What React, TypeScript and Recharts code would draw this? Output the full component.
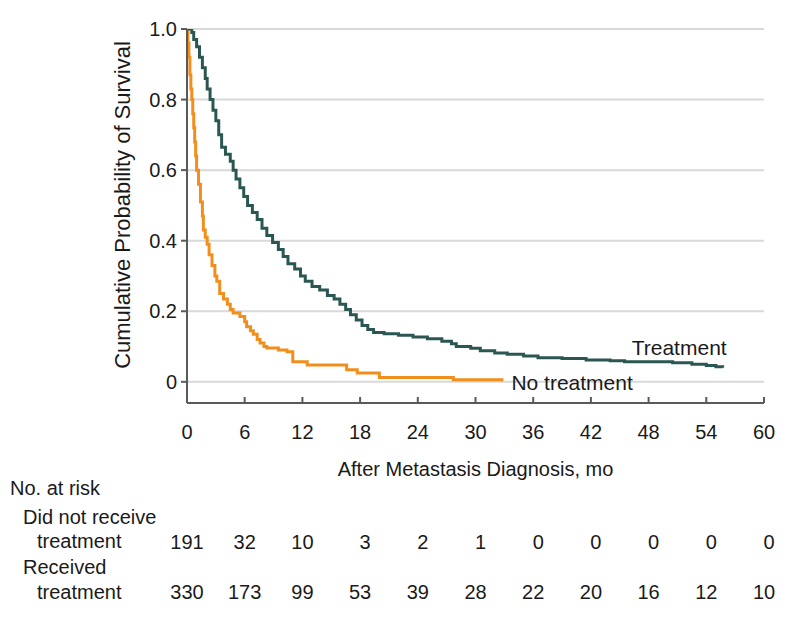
import { LineChart, Line, XAxis, YAxis, CartesianGrid } from 'recharts';

// months after metastasis diagnosis shown on the x axis / risk table
const months = [0, 6, 12, 18, 24, 30, 36, 42, 48, 54, 60];
const atRiskNoTreatment = [191, 32, 10, 3, 2, 1, 0, 0, 0, 0, 0];
const atRiskTreatment = [330, 173, 99, 53, 39, 28, 22, 20, 16, 12, 10];
const survivalTicks = [0, 0.2, 0.4, 0.6, 0.8, 1.0];

// Kaplan-Meier estimates
const treatmentTime = [
  0, 0.5, 0.7, 1.0, 1.3, 1.6, 1.9, 2.1, 2.4, 2.7, 3.0, 3.3, 3.6, 4.0, 4.5, 4.8, 5.1, 5.5, 5.9, 6.3,
  6.8, 7.3, 7.8, 8.3, 8.9, 9.5, 10.0, 10.5, 11.2, 11.8, 12.3, 13.0, 13.8, 14.6, 15.3, 15.9, 16.5,
  17.0, 17.6, 18.2, 18.8, 19.4, 20.5, 22.0, 23.5, 25.0, 26.5, 27.5, 28.0, 29.5, 30.5, 32.0, 33.3,
  35.0, 36.5, 39.0, 41.5, 44.0, 45.5, 48.0, 50.5, 52.5, 54.0, 55.0, 55.7,
];
const treatmentSurvival = [
  1.0, 0.99, 0.97, 0.95, 0.92, 0.89, 0.86, 0.83, 0.8, 0.77, 0.74, 0.7, 0.665, 0.645, 0.625, 0.6,
  0.575, 0.55, 0.525, 0.5, 0.48, 0.46, 0.435, 0.415, 0.395, 0.375, 0.355, 0.335, 0.32, 0.3, 0.285,
  0.27, 0.26, 0.245, 0.235, 0.22, 0.205, 0.19, 0.175, 0.16, 0.148, 0.14, 0.136, 0.132, 0.127, 0.122,
  0.115, 0.108, 0.1, 0.095, 0.088, 0.082, 0.078, 0.073, 0.068, 0.066, 0.062, 0.06, 0.057, 0.057,
  0.054, 0.05, 0.046, 0.043, 0.04,
];
const noTreatmentTime = [
  0, 0.1, 0.2, 0.3, 0.4, 0.5, 0.6, 0.7, 0.8, 0.9, 1.0, 1.2, 1.4, 1.6, 1.7, 1.9, 2.1, 2.3, 2.6, 2.9,
  3.1, 3.4, 3.8, 4.2, 4.5, 4.8, 5.5, 6.0, 6.2, 6.6, 6.9, 7.3, 7.6, 8.0, 8.3, 9.5, 10.4, 11.0, 12.5,
  16.6, 17.7, 20.0, 27.7, 32.9,
];
const noTreatmentSurvival = [
  1.0, 0.96, 0.92, 0.87, 0.83, 0.8, 0.76, 0.72, 0.68, 0.64, 0.6, 0.56, 0.51, 0.47, 0.43, 0.41, 0.39,
  0.36, 0.33, 0.3, 0.285, 0.25, 0.235, 0.22, 0.205, 0.195, 0.185, 0.17, 0.156, 0.145, 0.135, 0.12,
  0.11, 0.1, 0.096, 0.09, 0.085, 0.057, 0.048, 0.034, 0.025, 0.012, 0.006, 0.006,
];

const treatmentData = treatmentTime.map((t, i) => ({ t, s: treatmentSurvival[i] }));
const noTreatmentData = noTreatmentTime.map((t, i) => ({ t, s: noTreatmentSurvival[i] }));

const FONT = "'Liberation Sans', Arial, sans-serif";
const TEXT = '#1a1a1a';
const TEAL = '#2b5753';
const ORANGE = '#f28e1c';
const AXIS = '#5a5a5a';

function MonthTick(props: any) {
  const { x, y, payload } = props;
  const i = months.indexOf(payload.value);
  const a = atRiskNoTreatment[i];
  const b = atRiskTreatment[i];
  // single digits sit right-aligned in a two-digit column
  const shift = (n: number) => (String(n).length === 1 ? 5 : 0);
  return (
    <g fontFamily={FONT} fontSize={20} fill={TEXT}>
      <line x1={x} x2={x} y1={y} y2={y - 6} stroke={AXIS} strokeWidth={2} />
      <text x={x} y={y + 29} textAnchor="middle" dominantBaseline="central">
        {payload.value}
      </text>
      <text x={x + shift(a)} y={y + 139} textAnchor="middle" dominantBaseline="central">
        {a}
      </text>
      <text x={x + shift(b)} y={y + 189} textAnchor="middle" dominantBaseline="central">
        {b}
      </text>
    </g>
  );
}

function BottomTexts(props: any) {
  const { viewBox } = props;
  const cx = viewBox.x + viewBox.width / 2;
  return (
    <g fontFamily={FONT} fontSize={20} fill={TEXT}>
      <text x={cx} y={469} textAnchor="middle" dominantBaseline="central">
        After Metastasis Diagnosis, mo
      </text>
      <text x={10} y={488} dominantBaseline="central">No. at risk</text>
      <text x={23} y={517} dominantBaseline="central">Did not receive</text>
      <text x={37} y={541} dominantBaseline="central">treatment</text>
      <text x={23} y={567} dominantBaseline="central">Received</text>
      <text x={37} y={592} dominantBaseline="central">treatment</text>
    </g>
  );
}

function YTitle() {
  return (
    <text
      x={122}
      y={205}
      transform="rotate(-90 122 205)"
      textAnchor="middle"
      dominantBaseline="central"
      fontFamily={FONT}
      fontSize={22}
      fill={TEXT}
    >
      Cumulative Probability of Survival
    </text>
  );
}

function EndLabel(props: any) {
  const { x, y, index, last, text, offX, offY, anchor } = props;
  if (index !== last) return null;
  return (
    <text
      x={x + offX}
      y={y + offY}
      textAnchor={anchor}
      dominantBaseline="central"
      fontFamily={FONT}
      fontSize={21}
      fill={TEXT}
    >
      {text}
    </text>
  );
}

export default function App() {
  return (
    <div style={{ position: 'absolute', left: 0, top: 0, width: 798, height: 620, background: '#fff' }}>
      <LineChart width={798} height={620} margin={{ top: 29, right: 34, bottom: 0, left: 0 }}>
        <CartesianGrid vertical={false} stroke="#d9d9d9" strokeWidth={2} />
        <XAxis
          type="number"
          dataKey="t"
          domain={[0, 60]}
          ticks={months}
          interval={0}
          height={217}
          tickSize={0}
          tickMargin={0}
          tickLine={false}
          axisLine={{ stroke: AXIS, strokeWidth: 2 }}
          tick={<MonthTick />}
          label={<BottomTexts />}
        />
        <YAxis
          type="number"
          domain={[-0.06, 1]}
          ticks={survivalTicks}
          interval={0}
          width={187}
          allowDataOverflow
          tickSize={6}
          tickMargin={4}
          tickLine={{ stroke: AXIS, strokeWidth: 2 }}
          axisLine={{ stroke: AXIS, strokeWidth: 2 }}
          tick={{ fill: TEXT, fontSize: 20, fontFamily: FONT }}
          tickFormatter={(v: number) => (v === 0 ? '0' : v.toFixed(1))}
          label={<YTitle />}
        />
        <Line
          data={noTreatmentData}
          dataKey="s"
          type="stepAfter"
          stroke={ORANGE}
          strokeWidth={3}
          dot={false}
          isAnimationActive={false}
          label={
            <EndLabel last={noTreatmentData.length - 1} text="No treatment" offX={8} offY={3} anchor="start" />
          }
        />
        <Line
          data={treatmentData}
          dataKey="s"
          type="stepAfter"
          stroke={TEAL}
          strokeWidth={3}
          dot={false}
          isAnimationActive={false}
          label={<EndLabel last={treatmentData.length - 1} text="Treatment" offX={4} offY={-20} anchor="end" />}
        />
      </LineChart>
    </div>
  );
}
